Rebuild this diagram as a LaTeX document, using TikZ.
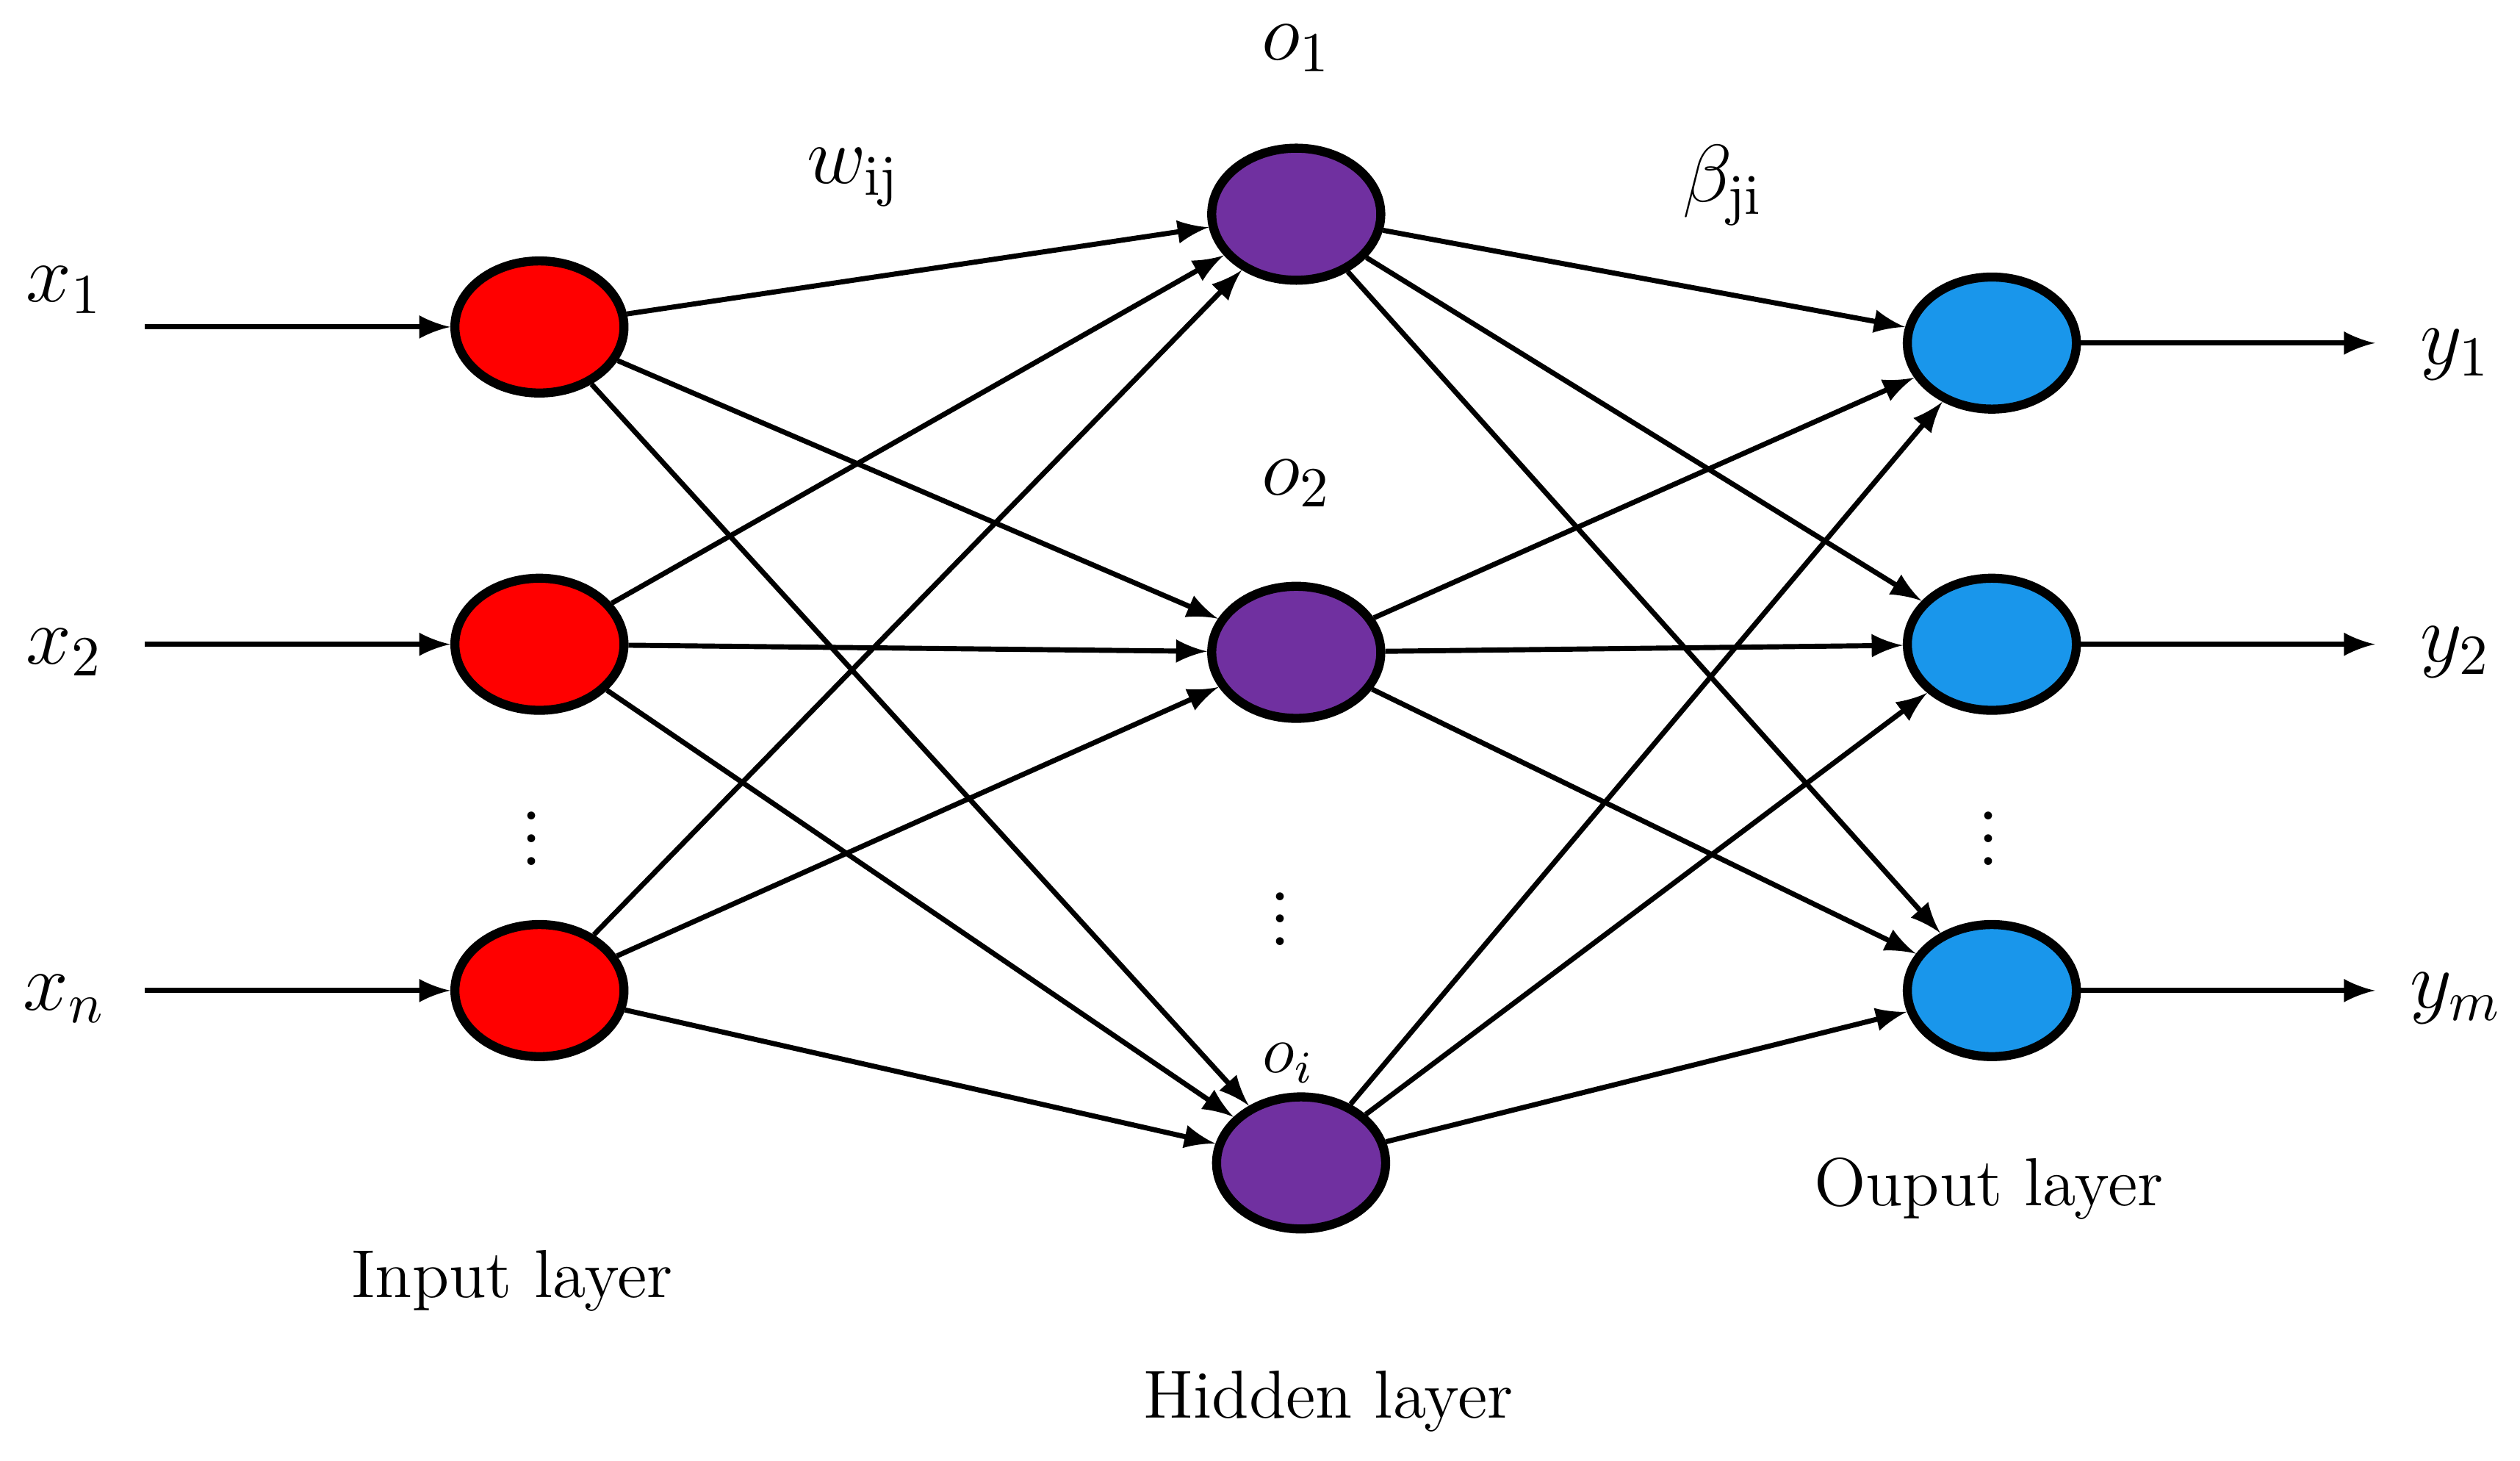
\documentclass[tikz,border=0pt]{standalone}
\usepackage{amsmath}
\usepackage{tikz}
\usetikzlibrary{arrows,shapes.geometric}

\definecolor{hidcol}{RGB}{112,48,160}
\definecolor{outcol}{RGB}{25,150,235}

\tikzset{
  neuron/.style={ellipse,draw=black,line width=1.6pt,minimum width=1.05cm,minimum height=0.82cm,inner sep=0pt},
  conn/.style={-latex,line width=0.9pt},
  lbl/.style={font=\Large}
}

\begin{document}
\begin{tikzpicture}[y=-1cm]

\useasboundingbox (0,0) rectangle (15.65,9.07);

%% input layer
\node [neuron,fill=red] (in1) at (3.35,2.03) {};
\node [neuron,fill=red] (in2) at (3.35,4.00) {};
\node [neuron,fill=red] (in3) at (3.35,6.15) {};

%% hidden layer
\node [neuron,fill=hidcol] (hid1) at (8.05,1.33) {};
\node [neuron,fill=hidcol] (hid2) at (8.05,4.05) {};
\node [neuron,fill=hidcol] (hid3) at (8.08,7.22) {};

%% output layer
\node [neuron,fill=outcol] (out1) at (12.37,2.13) {};
\node [neuron,fill=outcol] (out2) at (12.37,4.00) {};
\node [neuron,fill=outcol] (out3) at (12.37,6.15) {};

%% inputs
\node [lbl] (x1) at (0.40,1.80) {$x_1$};
\node [lbl] (x2) at (0.40,4.05) {$x_2$};
\node [lbl] (xn) at (0.40,6.20) {$x_n$};
\coordinate (s1) at (0.90,2.03);
\coordinate (s2) at (0.90,4.00);
\coordinate (s3) at (0.90,6.15);
\draw [conn] (s1) -- (in1);
\draw [conn] (s2) -- (in2);
\draw [conn] (s3) -- (in3);

%% outputs
\node [lbl] (y1) at (15.25,2.20) {$y_1$};
\node [lbl] (y2) at (15.25,4.05) {$y_2$};
\node [lbl] (ym) at (15.25,6.20) {$y_m$};
\coordinate (e1) at (14.75,2.13);
\coordinate (e2) at (14.75,4.00);
\coordinate (e3) at (14.75,6.15);
\draw [conn] (out1) -- (e1);
\draw [conn] (out2) -- (e2);
\draw [conn] (out3) -- (e3);

%% the weights
\foreach \i in {1,2,3}
  \foreach \j in {1,2,3}
  {
    \draw [conn] (in\i) -- (hid\j);
    \draw [conn] (hid\i) -- (out\j);
  }

%% hidden labels
\node [lbl] (o1) at (8.05,0.30) {$o_1$};
\node [lbl] (o2) at (8.05,3.00) {$o_2$};
\node [font=\large] (oi) at (8.00,6.60) {$o_i$};
\node [lbl] (wij) at (5.30,1.10) {$w_{\mathrm{ij}}$};
\node [lbl] (bji) at (10.70,1.15) {$\beta_{\mathrm{ji}}$};

%% the dots
\node [lbl,inner sep=0pt] (d1) at (3.30,5.10) {$\vdots$};
\node [lbl,inner sep=0pt] (d2) at (7.95,5.60) {$\vdots$};
\node [lbl,inner sep=0pt] (d3) at (12.35,5.10) {$\vdots$};

%% layer names
\node [font=\large] (inl) at (3.18,7.95) {Input layer};
\node [font=\large] (hidl) at (8.25,8.70) {Hidden layer};
\node [font=\large] (outl) at (12.35,7.38) {Ouput layer};

\end{tikzpicture}
\end{document}
